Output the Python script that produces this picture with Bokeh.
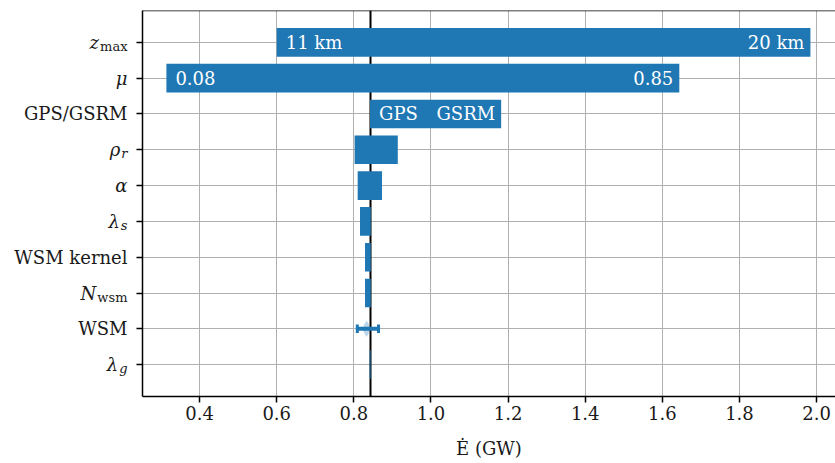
from bokeh.plotting import figure
from bokeh.layouts import row
from bokeh.models import Range1d, FixedTicker, Span, Grid, ColumnDataSource, NumeralTickFormatter
from bokeh.embed import file_html
from bokeh.resources import INLINE
from bokeh.core.properties import value

# ---------------- data ----------------
params = ["λ_g", "WSM", "N_wsm", "WSM kernel", "λ_s", "α", "ρ_r", "GPS/GSRM", "μ", "z_max"]
bar_left = [0.8410, None, 0.829, 0.829, 0.816, 0.810, 0.802, 0.842, 0.314, 0.600]
bar_right = [0.8435, None, 0.844, 0.844, 0.844, 0.873, 0.914, 1.182, 1.644, 1.984]
baseline = 0.842

label_params = ["z_max", "μ", "GPS/GSRM"]
label_low_text = ["11 km", "0.08", "GPS"]
label_high_text = ["20 km", "0.85", "GSRM"]

wsm_center = 0.833
wsm_low = 0.809
wsm_high = 0.864
wsm_violin_dy = [-0.23, -0.12, 0.0, 0.12, 0.23]
wsm_violin_halfwidth = [0.0, 0.006, 0.010, 0.006, 0.0]

x_ticks = [0.4, 0.6, 0.8, 1.0, 1.2, 1.4, 1.6, 1.8, 2.0]

# y tick labels: (main text, subscript, italic main?, italic subscript?)
tick_label_parts = {
    "λ_g": ("λ", "g", True, True),
    "WSM": ("WSM", "", False, False),
    "N_wsm": ("N", "wsm", True, False),
    "WSM kernel": ("WSM kernel", "", False, False),
    "λ_s": ("λ", "s", True, True),
    "α": ("α", "", True, False),
    "ρ_r": ("ρ", "r", True, True),
    "GPS/GSRM": ("GPS/GSRM", "", False, False),
    "μ": ("μ", "", True, False),
    "z_max": ("z", "max", True, False),
}

# ---------------- styles ----------------
BLUE = "#1f77b4"
FONT = "DejaVu Serif"
FS = 18
SUB_FS = 13
CHAR_W = {"m": 0.948, "a": 0.596, "x": 0.564, "r": 0.478, "s": 0.514, "w": 0.856, "g": 0.640}
TEXT_COLOR = "#1a1a1a"
W, H = 835, 463
LABEL_W = 134          # width of the tick-label strip
TOP, BOTTOM = 10, 67

ypos = list(range(len(params)))
y_range = Range1d(-0.89, 9.89)

# ---------------- main chart ----------------
p = figure(width=W - LABEL_W, height=H, output_backend="svg", toolbar_location=None,
           x_range=Range1d(0.252, 2.049), y_range=y_range,
           min_border_left=8, min_border_right=0, min_border_top=TOP, min_border_bottom=BOTTOM)
p.outline_line_color = None
p.background_fill_color = "white"
p.border_fill_color = "white"

y_ticker = FixedTicker(ticks=ypos)
x_ticker = FixedTicker(ticks=x_ticks)

p.xgrid.ticker = x_ticker
p.ygrid.ticker = y_ticker
for g in (p.xgrid, p.ygrid):
    g.grid_line_color = "#b0b0b0"
    g.grid_line_width = 1
    g.grid_line_alpha = 1.0
    g.level = "underlay"

# baseline as an underlay grid line so the bars cover it
p.add_layout(Grid(dimension=0, ticker=FixedTicker(ticks=[baseline]),
                  grid_line_color="black", grid_line_width=2, level="underlay"))
p.add_layout(Span(location=y_range.end, dimension="width", line_color="black", line_width=1.5))

bar_rows = [i for i in range(len(params)) if bar_left[i] is not None]
src = ColumnDataSource(dict(
    y=[ypos[i] for i in bar_rows],
    left=[bar_left[i] for i in bar_rows],
    right=[bar_right[i] for i in bar_rows],
))
p.hbar(y="y", left="left", right="right", height=0.8, source=src,
       fill_color=BLUE, fill_alpha=1.0, line_color=None)

yw = ypos[params.index("WSM")]
vx = [wsm_center - w for w in wsm_violin_halfwidth] + [wsm_center + w for w in reversed(wsm_violin_halfwidth)]
vy = [yw + d for d in wsm_violin_dy] + [yw + d for d in reversed(wsm_violin_dy)]
p.patch(vx, vy, fill_color=BLUE, fill_alpha=0.3, line_color=None)
p.segment(x0=[wsm_low], y0=[yw], x1=[wsm_high], y1=[yw], line_color=BLUE, line_width=4)
p.segment(x0=[wsm_low, wsm_high], y0=[yw - 0.12, yw - 0.12],
          x1=[wsm_low, wsm_high], y1=[yw + 0.12, yw + 0.12], line_color=BLUE, line_width=3)

ly = [ypos[params.index(n)] for n in label_params]
lsrc = ColumnDataSource(dict(
    x=[bar_left[params.index(n)] for n in label_params] + [bar_right[params.index(n)] for n in label_params],
    y=ly + ly,
    text=label_low_text + label_high_text,
    align=["left"] * len(ly) + ["right"] * len(ly),
    xoff=[9] * len(ly) + [-6] * len(ly),
))
p.text(x="x", y="y", text="text", source=lsrc, text_align="align", x_offset="xoff",
       text_baseline="middle", text_color="white", text_font=value(FONT),
       text_font_size=f"{FS}px")

p.xaxis.ticker = x_ticker
p.xaxis.formatter = NumeralTickFormatter(format="0.0")
p.yaxis.ticker = y_ticker
p.yaxis.major_label_overrides = {i: "" for i in ypos}
p.yaxis.major_label_standoff = 0
for ax in (p.xaxis[0], p.yaxis[0]):
    ax.axis_line_color = "black"
    ax.axis_line_width = 1.5
    ax.major_tick_line_color = "black"
    ax.major_tick_line_width = 1.5
    ax.major_tick_out = 6
    ax.major_tick_in = 0
    ax.minor_tick_line_color = None
    ax.major_label_text_font = FONT
    ax.major_label_text_font_size = f"{FS}px"
    ax.major_label_text_color = TEXT_COLOR
p.xaxis.major_label_standoff = 3
p.xaxis.axis_label = "Ė (GW)"
p.xaxis.axis_label_text_font = FONT
p.xaxis.axis_label_text_font_size = f"{FS}px"
p.xaxis.axis_label_text_font_style = "normal"
p.xaxis.axis_label_text_color = TEXT_COLOR
p.xaxis.axis_label_standoff = 15

# ---------------- tick-label strip (shares the y range) ----------------
q = figure(width=LABEL_W, height=H, output_backend="svg", toolbar_location=None,
           x_range=Range1d(0, LABEL_W), y_range=y_range,
           x_axis_type=None, y_axis_type=None,
           min_border_left=0, min_border_right=0, min_border_top=TOP, min_border_bottom=BOTTOM)
q.outline_line_color = None
q.grid.visible = False
q.background_fill_color = "white"
q.border_fill_color = "white"

x_end = LABEL_W - 7   # right edge of tick labels
rows = dict(main_x=[], sub_x=[], y=[], main=[], sub=[], style=[], sub_style=[])
for i, n in enumerate(params):
    main, sub, ital, sub_ital = tick_label_parts[n]
    subw = sum(CHAR_W.get(c, 0.55) for c in sub) * SUB_FS
    rows["main_x"].append(x_end - subw - (1 if sub else 0))
    rows["sub_x"].append(x_end - subw)
    rows["y"].append(ypos[i])
    rows["main"].append(main)
    rows["sub"].append(sub)
    rows["style"].append("italic" if ital else "normal")
    rows["sub_style"].append("italic" if sub_ital else "normal")
tsrc = ColumnDataSource(rows)
q.text(x="main_x", y="y", text="main", source=tsrc, text_align="right", text_baseline="middle",
       text_font=value(FONT), text_font_size=f"{FS}px", text_font_style="style",
       text_color=TEXT_COLOR)
q.text(x="sub_x", y="y", text="sub", source=tsrc, text_align="left", text_baseline="middle",
       y_offset=4, text_font=value(FONT), text_font_size=f"{SUB_FS}px",
       text_font_style="sub_style", text_color=TEXT_COLOR)

layout = row(q, p, spacing=0)
open("out.html", "w").write(file_html(layout, INLINE))
